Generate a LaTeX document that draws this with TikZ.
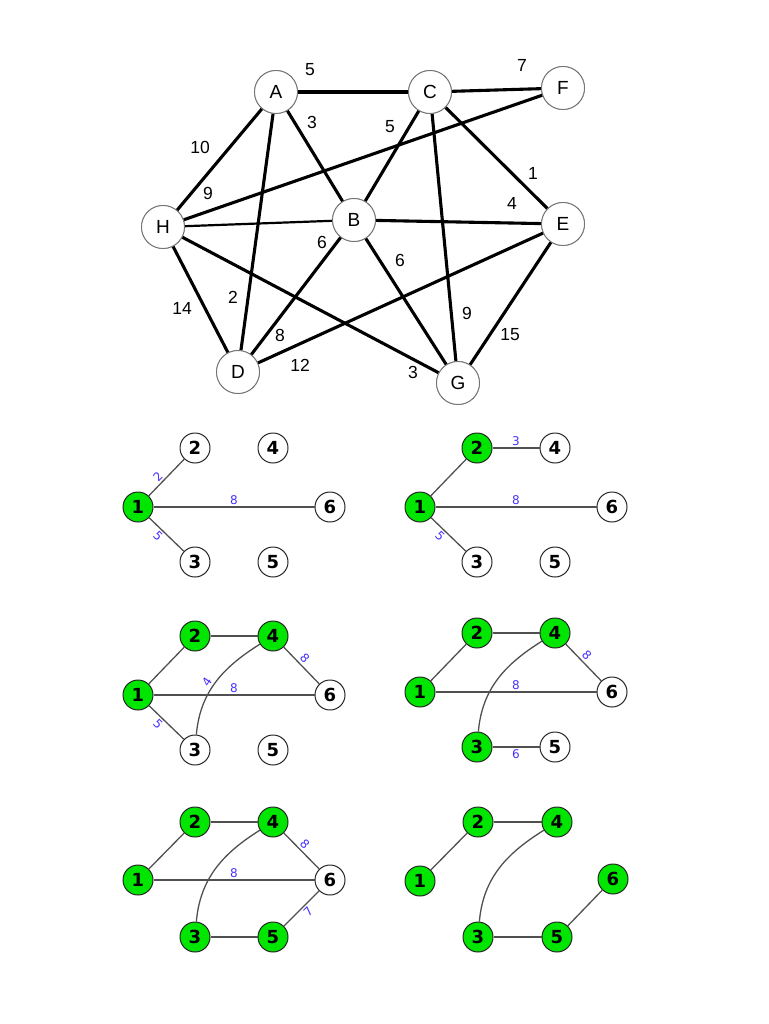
\documentclass[tikz,border=0pt]{standalone}
\usepackage{fontspec}
\setmainfont{Liberation Sans}
\newfontfamily\djv{DejaVu Sans}
\definecolor{ngreen}{RGB}{0,230,0}
\definecolor{nblue}{RGB}{70,50,255}
\definecolor{egray}{RGB}{80,80,80}
\tikzset{
  big/.style={circle,draw=black!55,line width=0.9pt,fill=white,minimum size=43pt,inner sep=0pt,font=\fontsize{19}{21}\selectfont},
  bedge/.style={line width=3.1pt,black},
  wlab/.style={font=\fontsize{17.5}{19}\selectfont,inner sep=1pt},
  sn/.style={circle,draw=black!85,line width=1pt,fill=white,minimum size=30pt,inner sep=0pt,font=\djv\bfseries\fontsize{18}{20}\selectfont},
  gn/.style={sn,fill=ngreen},
  sedge/.style={line width=1.3pt,egray},
  blab/.style={font=\djv\fontsize{12}{13}\selectfont,text=nblue,inner sep=2pt}
}
\begin{document}
\begin{tikzpicture}[x=1pt,y=1pt]
\path[use as bounding box] (0,0) rectangle (768,-1024);
% ---------- top graph ----------
\node[big] (A) at (276,-92) {A};
\node[big] (C) at (430,-92) {C};
\node[big] (F) at (563,-88) {F};
\node[big] (H) at (163,-227) {H};
\node[big] (B) at (354,-220) {B};
\node[big] (E) at (563,-224) {E};
\node[big] (D) at (238,-372) {D};
\node[big] (G) at (458,-383) {G};
\draw[bedge] (A) -- (C);
\draw[bedge] (C) -- (F);
\draw[bedge] (A) -- (H);
\draw[bedge] (A) -- (D);
\draw[bedge] (A) -- (B);
\draw[bedge] (C) -- (B);
\draw[bedge] (C) -- (G);
\draw[bedge] (C) -- (E);
\draw[bedge] (H) -- (F);
\draw[bedge,line width=2.2pt] (H) -- (B);
\draw[bedge] (B) -- (E);
\draw[bedge] (H) -- (D);
\draw[bedge] (H) -- (G);
\draw[bedge] (B) -- (D);
\draw[bedge] (B) -- (G);
\draw[bedge] (D) -- (E);
\draw[bedge] (E) -- (G);
\foreach \n/\t in {A/A,C/C,F/F,H/H,B/B,E/E,D/D,G/G}{\node[big] at (\n) {\t};}
\node[wlab] (l1) at (310,-70) {5};
\node[wlab] (l2) at (522,-65) {7};
\node[wlab] (l3) at (200,-147) {10};
\node[wlab] (l4) at (312,-122) {3};
\node[wlab] (l5) at (390,-127) {5};
\node[wlab] (l6) at (533,-173) {1};
\node[wlab] (l7) at (208,-193) {9};
\node[wlab] (l8) at (512,-203) {4};
\node[wlab] (l9) at (322,-242) {6};
\node[wlab] (l10) at (400,-260) {6};
\node[wlab] (l11) at (182,-308) {14};
\node[wlab] (l12) at (233,-297) {2};
\node[wlab] (l13) at (467,-313) {9};
\node[wlab] (l14) at (280,-335) {8};
\node[wlab] (l15) at (510,-335) {15};
\node[wlab] (l16) at (300,-365) {12};
\node[wlab] (l17) at (413,-372) {3};
% ---------- panel 1 ----------
\begin{scope}[shift={(138,-507)}]
\node[gn] (a1) at (0,0) {1};
\node[sn] (a2) at (57,59) {2};
\node[sn] (a4) at (135,59) {4};
\node[sn] (a6) at (192,0) {6};
\node[sn] (a3) at (57,-55) {3};
\node[sn] (a5) at (135,-55) {5};
\end{scope}
\draw[sedge] (a1) -- (a2) node[pos=0.4,sloped,above,blab] {2};
\draw[sedge] (a1) -- (a6) node[midway,above,blab] {8};
\draw[sedge] (a1) -- (a3) node[pos=0.4,sloped,below,blab] {5};
% ---------- panel 2 ----------
\begin{scope}[shift={(420,-507)}]
\node[gn] (b1) at (0,0) {1};
\node[gn] (b2) at (57,59) {2};
\node[sn] (b4) at (135,59) {4};
\node[sn] (b6) at (192,0) {6};
\node[sn] (b3) at (57,-55) {3};
\node[sn] (b5) at (135,-55) {5};
\end{scope}
\draw[sedge] (b1) -- (b2);
\draw[sedge] (b2) -- (b4) node[midway,above,blab] {3};
\draw[sedge] (b1) -- (b6) node[midway,above,blab] {8};
\draw[sedge] (b1) -- (b3) node[pos=0.4,sloped,below,blab] {5};
% ---------- panel 3 ----------
\begin{scope}[shift={(138,-695)}]
\node[gn] (c1) at (0,0) {1};
\node[gn] (c2) at (57,59) {2};
\node[gn] (c4) at (135,59) {4};
\node[sn] (c6) at (192,0) {6};
\node[sn] (c3) at (57,-55) {3};
\node[sn] (c5) at (135,-55) {5};
\end{scope}
\draw[sedge] (c1) -- (c2);
\draw[sedge] (c2) -- (c4);
\draw[sedge] (c1) -- (c6) node[midway,above,blab] {8};
\draw[sedge] (c1) -- (c3) node[pos=0.4,sloped,below,blab] {5};
\draw[sedge] (c3) to[out=85,in=212] node[pos=0.45,sloped,above,blab] {4} (c4);
\draw[sedge] (c4) -- (c6) node[pos=0.45,sloped,above,blab] {8};
% ---------- panel 4 ----------
\begin{scope}[shift={(420,-692)}]
\node[gn] (d1) at (0,0) {1};
\node[gn] (d2) at (57,59) {2};
\node[gn] (d4) at (135,59) {4};
\node[sn] (d6) at (192,0) {6};
\node[gn] (d3) at (57,-55) {3};
\node[sn] (d5) at (135,-55) {5};
\end{scope}
\draw[sedge] (d1) -- (d2);
\draw[sedge] (d2) -- (d4);
\draw[sedge] (d1) -- (d6) node[midway,above,blab] {8};
\draw[sedge] (d3) to[out=85,in=212] (d4);
\draw[sedge] (d4) -- (d6) node[pos=0.45,sloped,above,blab] {8};
\draw[sedge] (d3) -- (d5) node[midway,below,blab] {6};
% ---------- panel 5 ----------
\begin{scope}[shift={(138,-880)}]
\node[gn] (e1) at (0,0) {1};
\node[gn] (e2) at (57,58) {2};
\node[gn] (e4) at (135,58) {4};
\node[sn] (e6) at (192,0) {6};
\node[gn] (e3) at (57,-57) {3};
\node[gn] (e5) at (135,-57) {5};
\end{scope}
\draw[sedge] (e1) -- (e2);
\draw[sedge] (e2) -- (e4);
\draw[sedge] (e1) -- (e6) node[midway,above,blab] {8};
\draw[sedge] (e3) to[out=85,in=212] (e4);
\draw[sedge] (e4) -- (e6) node[pos=0.45,sloped,above,blab] {8};
\draw[sedge] (e3) -- (e5);
\draw[sedge] (e5) -- (e6) node[pos=0.55,sloped,below,blab] {7};
% ---------- panel 6 ----------
\begin{scope}[shift={(420,-881)}]
\node[gn] (f1) at (0,0) {1};
\node[gn] (f2) at (58,59) {2};
\node[gn] (f4) at (137,59) {4};
\node[gn] (f6) at (193,2) {6};
\node[gn] (f3) at (58,-56) {3};
\node[gn] (f5) at (137,-56) {5};
\end{scope}
\draw[sedge] (f1) -- (f2);
\draw[sedge] (f2) -- (f4);
\draw[sedge] (f3) to[out=85,in=212] (f4);
\draw[sedge] (f3) -- (f5);
\draw[sedge] (f5) -- (f6);
\end{tikzpicture}
\end{document}
